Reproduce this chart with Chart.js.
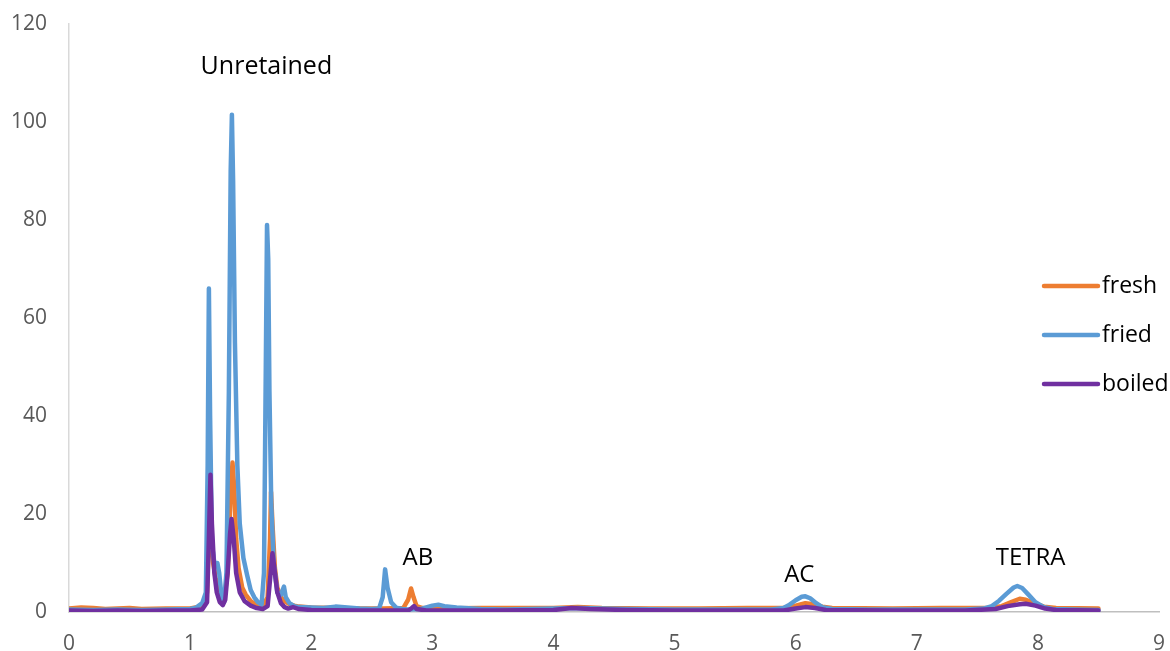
<!DOCTYPE html>
<html>
<head>
<meta charset="utf-8">
<script src="https://cdn.jsdelivr.net/npm/chart.js@4.4.1/dist/chart.umd.min.js"></script>
<style>
  html, body { margin: 0; padding: 0; background: #ffffff; }
  #wrap { width: 1170px; height: 651px; position: relative; }
</style>
</head>
<body>
<div id="wrap"><canvas id="c" width="1170" height="651"></canvas></div>
<script>
// ---- data: [time (min), signal] ----
const fresh = [[0,0.7],[0.1,0.9],[0.2,0.8],[0.3,0.6],[0.4,0.7],[0.5,0.8],[0.6,0.6],[0.8,0.7],[1.0,0.7],[1.1,1.2],[1.14,4],[1.16,20],[1.175,16],[1.19,10],[1.21,7],[1.23,5],[1.25,3],[1.28,2.5],[1.31,8],[1.335,24],[1.35,30.5],[1.365,25],[1.38,15],[1.4,9],[1.43,5],[1.46,3.5],[1.5,2.2],[1.55,1.4],[1.6,1.2],[1.64,3],[1.66,15],[1.668,24.5],[1.68,18],[1.7,9],[1.72,5],[1.75,3],[1.78,2.2],[1.82,1.6],[1.86,1.3],[1.9,1.1],[2.0,0.9],[2.2,0.8],[2.4,0.7],[2.6,0.7],[2.76,0.8],[2.8,2.5],[2.824,4.8],[2.845,3],[2.87,1.2],[2.92,0.8],[3.0,0.7],[3.4,0.8],[3.8,0.8],[4.0,0.8],[4.2,1.0],[4.4,0.8],[4.8,0.7],[5.2,0.7],[5.6,0.8],[5.9,0.8],[6.0,1.3],[6.08,1.8],[6.15,1.6],[6.22,1.1],[6.3,0.8],[6.8,0.7],[7.2,0.8],[7.6,0.8],[7.7,1.2],[7.78,2.0],[7.85,2.7],[7.9,2.5],[7.98,1.7],[8.05,1.1],[8.15,0.8],[8.5,0.7]];

const fried = [[0,0.5],[0.2,0.4],[0.4,0.5],[0.6,0.4],[0.8,0.5],[1.0,0.6],[1.05,0.9],[1.1,1.8],[1.13,4],[1.145,30],[1.155,66],[1.165,40],[1.18,14],[1.2,10],[1.225,10],[1.24,8],[1.26,3],[1.28,2],[1.3,8],[1.32,45],[1.335,90],[1.345,101.5],[1.355,88],[1.37,55],[1.39,30],[1.41,18],[1.44,11],[1.47,7.6],[1.5,4.5],[1.53,3],[1.56,2],[1.59,1.5],[1.61,8],[1.625,50],[1.635,79],[1.645,72],[1.655,45],[1.67,22],[1.69,10],[1.72,4],[1.75,3.5],[1.775,5.2],[1.79,3],[1.82,1.8],[1.86,1.2],[1.9,1.0],[2.0,0.9],[2.1,0.8],[2.2,1.1],[2.3,0.9],[2.4,0.7],[2.5,0.6],[2.56,0.7],[2.59,3],[2.61,8.7],[2.63,5],[2.66,2],[2.7,0.9],[2.75,0.6],[2.8,0.5],[2.9,0.6],[3.0,1.3],[3.05,1.5],[3.1,1.2],[3.2,0.9],[3.4,0.6],[3.6,0.5],[3.8,0.6],[4.0,0.7],[4.2,0.8],[4.4,0.7],[4.6,0.6],[5.0,0.5],[5.4,0.5],[5.8,0.5],[5.9,0.8],[5.95,1.5],[6.0,2.4],[6.05,3.1],[6.08,3.2],[6.12,2.8],[6.17,1.8],[6.22,1.0],[6.3,0.6],[6.6,0.5],[7.0,0.5],[7.4,0.5],[7.55,0.7],[7.62,1.2],[7.68,2.3],[7.74,3.7],[7.8,5.0],[7.83,5.3],[7.87,4.9],[7.92,3.6],[7.98,2.0],[8.05,1.0],[8.12,0.6],[8.3,0.5],[8.5,0.4]];

const boiled = [[0,0.3],[0.2,0.2],[0.4,0.3],[0.6,0.2],[0.8,0.3],[1.0,0.3],[1.1,0.5],[1.14,2],[1.155,15],[1.168,28],[1.18,18],[1.2,8],[1.22,4],[1.245,2],[1.27,1.4],[1.29,2.5],[1.31,8],[1.33,16],[1.342,19],[1.36,15],[1.38,8],[1.41,4],[1.45,2.2],[1.5,1.3],[1.55,0.8],[1.6,0.6],[1.64,1.2],[1.665,8],[1.68,12],[1.695,9],[1.72,4],[1.75,1.8],[1.78,1.0],[1.81,0.7],[1.85,1.0],[1.9,0.6],[2.0,0.4],[2.4,0.3],[2.8,0.3],[2.83,0.8],[2.85,1.2],[2.87,0.6],[2.95,0.3],[3.5,0.3],[4.0,0.4],[4.15,0.8],[4.3,0.6],[4.6,0.4],[5.0,0.3],[5.5,0.3],[5.9,0.3],[6.0,0.7],[6.08,1.0],[6.16,0.8],[6.25,0.4],[6.8,0.3],[7.4,0.3],[7.65,0.6],[7.75,1.2],[7.85,1.6],[7.9,1.7],[7.98,1.3],[8.06,0.7],[8.15,0.4],[8.5,0.3]];

const seriesNames = ['fresh', 'fried', 'boiled'];
const seriesColors = ['#ED7D31', '#5B9BD5', '#7030A0'];

// peak labels: [text, time, signal]
const peakLabels = [['Unretained', 1.63, 111.3], ['AB', 2.88, 11], ['AC', 6.03, 7.6], ['TETRA', 7.94, 11]];

const xTicks = { min: 0, max: 9, step: 1 };
const yTicks = { min: 0, max: 120, step: 20 };

const toXY = arr => arr.map(p => ({ x: p[0], y: p[1] }));
const seriesData = [fresh, fried, boiled];

const FONT = "'Open Sans', 'Liberation Sans', sans-serif";

const overlay = {
  id: 'overlay',
  afterDraw(chart) {
    const ctx = chart.ctx;
    const xs = chart.scales.x, ys = chart.scales.y;
    ctx.save();
    ctx.fillStyle = '#000000';
    ctx.textAlign = 'center';
    ctx.textBaseline = 'middle';
    peakLabels.forEach(([t, x, y]) => {
      ctx.font = (t === 'Unretained' ? '25px ' : '24px ') + FONT;
      ctx.fillText(t, xs.getPixelForValue(x), ys.getPixelForValue(y));
    });
    ctx.font = '23px ' + FONT;
    ctx.textAlign = 'left';
    const lx = 1044, ly0 = 286, gap = 49;
    seriesNames.forEach((n, i) => {
      const yy = ly0 + i * gap;
      ctx.strokeStyle = seriesColors[i];
      ctx.lineWidth = 4.5;
      ctx.lineCap = 'round';
      ctx.beginPath();
      ctx.moveTo(lx, yy);
      ctx.lineTo(lx + 54, yy);
      ctx.stroke();
      ctx.fillStyle = '#000000';
      ctx.fillText(n, lx + 58, yy);
    });
    ctx.restore();
  }
};

function zeroPad(s) { s.paddingTop = 0; s.paddingBottom = 0; s.paddingLeft = 0; s.paddingRight = 0; }

new Chart(document.getElementById('c'), {
  type: 'line',
  data: {
    datasets: seriesNames.map((n, i) => ({
      label: n,
      data: toXY(seriesData[i]),
      borderColor: seriesColors[i],
      backgroundColor: seriesColors[i],
      borderWidth: 4.5,
      pointRadius: 0,
      tension: 0,
      borderJoinStyle: 'round',
      borderCapStyle: 'round',
      order: 2 - i
    }))
  },
  options: {
    responsive: false,
    animation: false,
    events: [],
    layout: { padding: { top: 24, right: 11, left: 0, bottom: 0 } },
    plugins: { legend: { display: false }, tooltip: { enabled: false } },
    scales: {
      x: {
        type: 'linear',
        min: xTicks.min, max: xTicks.max,
        ticks: { stepSize: xTicks.step, color: '#595959', font: { family: FONT, size: 21 }, padding: 19 },
        grid: { display: false, drawTicks: false },
        border: { display: true, color: '#BFBFBF', width: 1.5 },
        afterFit(s) { s.height = 39; zeroPad(s); }
      },
      y: {
        type: 'linear',
        min: yTicks.min, max: yTicks.max,
        ticks: { stepSize: yTicks.step, color: '#595959', font: { family: FONT, size: 21 }, padding: 22 },
        grid: { display: false, drawTicks: false },
        border: { display: true, color: '#D9D9D9', width: 1.5 },
        afterFit(s) { s.width = 69; zeroPad(s); }
      }
    }
  },
  plugins: [overlay]
});
</script>
</body>
</html>
